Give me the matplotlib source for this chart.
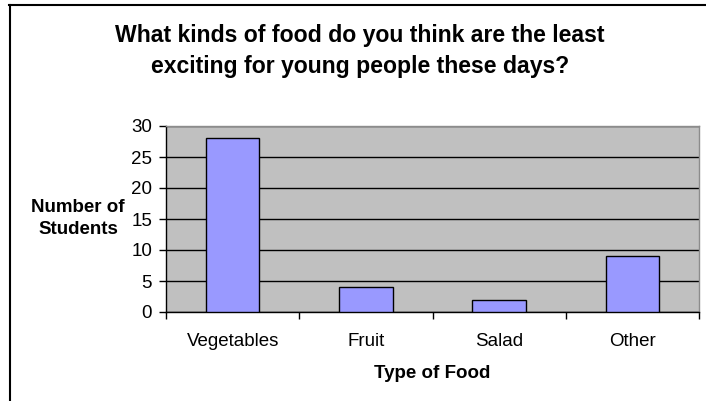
import matplotlib
matplotlib.use("Agg")
import matplotlib.pyplot as plt
from matplotlib.lines import Line2D
from matplotlib.ticker import FixedLocator

categories = ["Vegetables", "Fruit", "Salad", "Other"]
students = [28, 4, 2, 9]
y_ticks = [0, 5, 10, 15, 20, 25, 30]

W, H = 706, 401
plt.rcParams['font.family'] = ['Liberation Sans', 'DejaVu Sans']

fig = plt.figure(figsize=(W / 100, H / 100), dpi=100)
fig.patch.set_facecolor('white')

def fx(px):
    return px / W

def fy(py):
    return 1 - py / H

ax = fig.add_axes([fx(166), fy(312), fx(699) - fx(166), fy(126) - fy(312)])
ax.set_facecolor('#C0C0C0')
ax.set_axisbelow(True)

x = list(range(len(categories)))
ax.bar(x, students, width=0.4, color='#9999FF', edgecolor='black', linewidth=1.0, zorder=3)

ax.set_xlim(-0.5, len(categories) - 0.5)
ax.set_ylim(0, 30)
ax.set_yticks(y_ticks)
ax.yaxis.grid(True, color='black', linewidth=1.0, zorder=1)

ax.set_xticks(x)
ax.set_xticklabels(categories, fontsize=13.5)
ax.xaxis.set_minor_locator(FixedLocator([i - 0.5 for i in range(len(categories) + 1)]))
ax.tick_params(axis='x', which='major', length=0, pad=15)
ax.tick_params(axis='x', which='minor', length=5, width=1, color='black', direction='out')
ax.tick_params(axis='y', length=5, width=1, color='black', direction='out', pad=5, labelsize=13.5)

for s in ['left', 'bottom']:
    ax.spines[s].set_color('black')
    ax.spines[s].set_linewidth(1.0)
for s in ['top', 'right']:
    ax.spines[s].set_color('#8C8C8C')
    ax.spines[s].set_linewidth(1.0)

# titles and axis labels
fig.text(fx(360), fy(73), "What kinds of food do you think are the least\nexciting for young people these days?",
         ha='center', va='baseline', fontsize=16.6, fontweight='bold', linespacing=1.42, multialignment='center')
fig.text(fx(78), fy(234), "Number of\nStudents", ha='center', va='baseline', fontsize=13.5,
         fontweight='bold', linespacing=1.36, multialignment='center')
fig.text(fx(432.5), fy(378), "Type of Food", ha='center', va='baseline', fontsize=13.5, fontweight='bold')

# chart frame (top and left borders visible)
fig.add_artist(Line2D([fx(9), 1.0], [fy(5), fy(5)], color='black', linewidth=1.5))
fig.add_artist(Line2D([fx(10), fx(10)], [fy(5), 0.0], color='black', linewidth=1.5))

fig.savefig("out.png", dpi=100)
